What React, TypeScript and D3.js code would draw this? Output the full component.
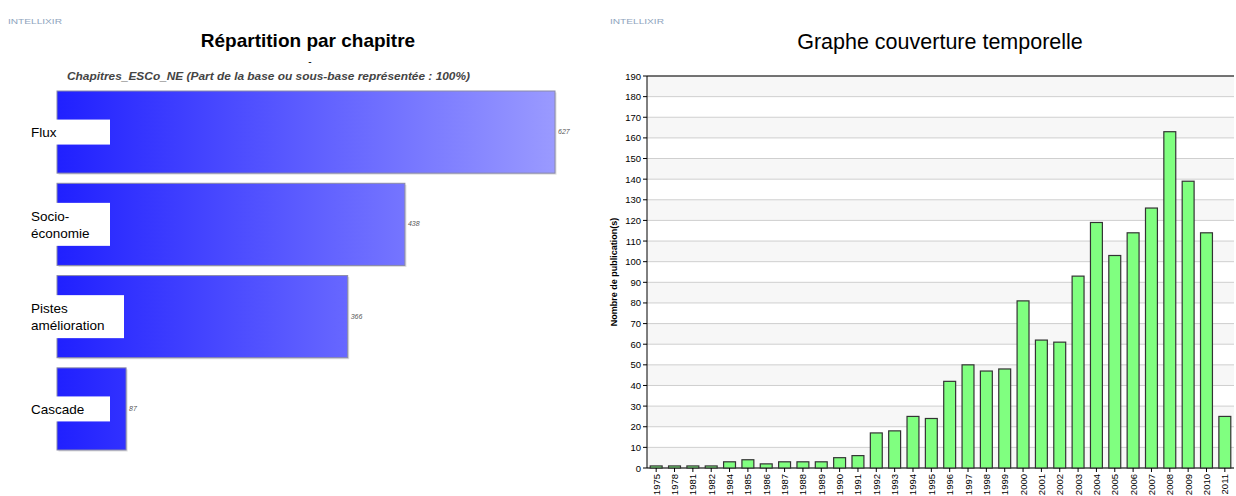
import React from "react";
import * as d3 from "d3";

const chapters = ["Flux", "Socio-|économie", "Pistes|amélioration", "Cascade"];
const chapterValues = [627, 438, 366, 87];

const years = ["1975","1978","1981","1982","1984","1985","1986","1987","1988","1989","1990","1991","1992","1993","1994","1995","1996","1997","1998","1999","2000","2001","2002","2003","2004","2005","2006","2007","2008","2009","2010","2011"];
const publications = [1,1,1,1,3,4,2,3,3,3,5,6,17,18,25,24,42,50,47,48,81,62,61,93,119,103,114,126,163,139,114,25];
const yTicks = d3.range(0, 191, 10);

export default function App() {
  // Left chart
  const lx0 = 57, lx1 = 555;
  const xL = d3.scaleLinear().domain([0, 627]).range([lx0, lx1]);
  const yL = d3.scaleBand().domain(chapters).range([91, 450]).paddingInner(0.11).paddingOuter(0);

  // Right chart
  const px0 = 647, px1 = 1234, py0 = 76, py1 = 468;
  const xR = d3.scaleBand().domain(years).range([px0, px1]).paddingInner(0.35).paddingOuter(0.175);
  const yR = d3.scaleLinear().domain([0, 190]).range([py1, py0]);

  const font = "Arial, 'Liberation Sans', sans-serif";

  return (
    <svg width={1236} height={496} style={{ position: "absolute", left: 0, top: 0, background: "#fff" }} fontFamily={font}>
      <defs>
        <linearGradient id="blueGrad" gradientUnits="userSpaceOnUse" x1={lx0} x2={lx1} y1={0} y2={0}>
          <stop offset="0" stopColor="#2020ff" />
          <stop offset="1" stopColor="#9a9aff" />
        </linearGradient>
      </defs>

      {/* logos */}
      <text x={8} y={24} fontSize={8} fill="#8ea3bd" textLength={54} lengthAdjust="spacingAndGlyphs">INTELLIXIR</text>
      <text x={610} y={24} fontSize={8} fill="#8ea3bd" textLength={54} lengthAdjust="spacingAndGlyphs">INTELLIXIR</text>

      {/* Left chart */}
      <text x={308} y={47} fontSize={19} fontWeight="bold" textAnchor="middle" fill="#000">Répartition par chapitre</text>
      <text x={310} y={65} fontSize={10} textAnchor="middle" fill="#000">-</text>
      <text x={67} y={80} fontSize={10} fontStyle="italic" fontWeight="bold" fill="#444" textLength={403} lengthAdjust="spacingAndGlyphs">Chapitres_ESCo_NE (Part de la base ou sous-base représentée : 100%)</text>

      {chapters.map((c, i) => {
        const y = yL(c)!;
        const h = yL.bandwidth();
        const w = xL(chapterValues[i]) - lx0;
        const lines = c.split("|");
        const cy = y + h / 2;
        const boxW = c.startsWith("Pistes") ? 99 : 85;
        const boxH = lines.length === 1 ? 25 : 43;
        return (
          <g key={c}>
            <rect x={lx0 + 1.5} y={y + 1.5} width={w} height={h} fill="#bbb" opacity={0.5} />
            <rect x={lx0} y={y} width={w} height={h} fill="url(#blueGrad)" stroke="#8a8aa8" strokeWidth={1} />
            <text x={xL(chapterValues[i]) + 3} y={cy + 2} fontSize={7} fontStyle="italic" fill="#555">{chapterValues[i]}</text>
            <rect x={25} y={cy - boxH / 2} width={boxW} height={boxH} fill="#fff" />
            {lines.map((l, j) => (
              <text key={j} x={31} y={cy - (lines.length - 1) * 8.5 + j * 17 + 5} fontSize={13.5} fill="#000">{l}</text>
            ))}
          </g>
        );
      })}

      {/* Right chart */}
      <text x={940} y={49} fontSize={21.5} textAnchor="middle" fill="#000">Graphe couverture temporelle</text>

      {yTicks.slice(0, -1).map((t) => (
        <rect key={"band" + t} x={px0} y={yR(t + 10)} width={px1 - px0} height={yR(t) - yR(t + 10)} fill={(t / 10) % 2 === 0 ? "#f7f7f7" : "#ffffff"} />
      ))}
      {yTicks.map((t) => (
        <g key={"t" + t}>
          <line x1={px0} x2={px1} y1={yR(t)} y2={yR(t)} stroke="#cfcfcf" strokeWidth={1} />
          <line x1={px0 - 4} x2={px0} y1={yR(t)} y2={yR(t)} stroke="#000" strokeWidth={1} />
          <text x={px0 - 6} y={yR(t) + 3.5} fontSize={9.5} textAnchor="end" fill="#000">{t}</text>
        </g>
      ))}
      <line x1={px0} x2={px1} y1={py0} y2={py0} stroke="#000" strokeWidth={1} />
      <line x1={px0} x2={px0} y1={py0} y2={py1} stroke="#000" strokeWidth={1} />
      <line x1={px0} x2={px1} y1={py1} y2={py1} stroke="#000" strokeWidth={1} />

      {years.map((yr, i) => {
        const x = xR(yr)!;
        const bw = xR.bandwidth();
        const cx = x + bw / 2;
        return (
          <g key={yr}>
            <rect x={x} y={yR(publications[i])} width={bw} height={py1 - yR(publications[i])} fill="#80ff80" stroke="#333" strokeWidth={1.2} />
            <line x1={cx} x2={cx} y1={py1} y2={py1 + 4} stroke="#000" strokeWidth={1} />
            <text transform={`translate(${cx + 3.5},${py1 + 6}) rotate(-90)`} fontSize={9.5} textAnchor="end" fill="#000">{yr}</text>
          </g>
        );
      })}

      <text transform={`translate(617,${(py0 + py1) / 2}) rotate(-90)`} fontSize={9} fontWeight="bold" textAnchor="middle" fill="#000">Nombre de publication(s)</text>
    </svg>
  );
}
